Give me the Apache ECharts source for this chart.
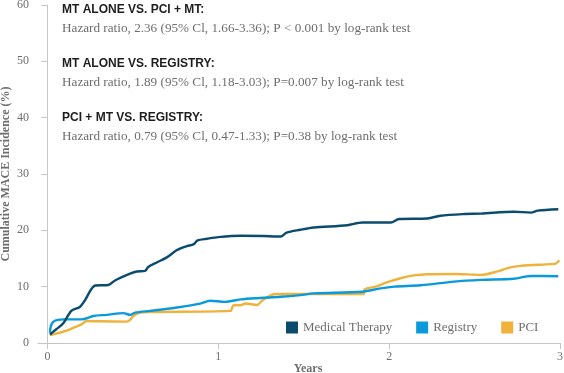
<!DOCTYPE html>
<html>
<head>
<meta charset="utf-8">
<script src="https://cdn.jsdelivr.net/npm/echarts@6/dist/echarts.min.js"></script>
<style>html,body{margin:0;padding:0;background:#fff}#chart{width:564px;height:373px}</style>
</head>
<body>
<div id="chart"></div>
<script>
// ---- data (years, cumulative %) ----
var seriesNames = ['Medical Therapy', 'Registry', 'PCI'];
var xTickValues = [0, 1, 2, 3];
var medicalTherapy = [
  [0.015,1.5],[0.05,2.4],[0.093,3.5],[0.14,5.7],[0.19,6.4],[0.22,7.6],[0.28,10.2],[0.357,10.3],
  [0.396,11.1],[0.484,12.3],[0.523,12.7],[0.572,12.8],[0.59,13.5],[0.64,14.3],[0.699,15.2],
  [0.758,16.5],[0.816,17.2],[0.855,17.5],[0.879,18.2],[0.934,18.5],[1.0,18.8],[1.13,19.05],
  [1.266,19.0],[1.345,18.9],[1.365,18.9],[1.40,19.6],[1.48,20.1],[1.559,20.5],[1.755,20.9],
  [1.843,21.4],[2.01,21.4],[2.058,22.0],[2.224,22.1],[2.30,22.6],[2.44,22.9],[2.537,22.97],
  [2.73,23.3],[2.83,23.15],[2.87,23.5],[2.99,23.75]
];
var registry = [
  [0.015,1.8],[0.02,3.0],[0.035,3.8],[0.06,4.1],[0.093,4.2],[0.2,4.2],[0.27,4.8],[0.347,5.0],
  [0.445,5.3],[0.484,5.0],[0.513,5.4],[0.60,5.7],[0.66,5.9],[0.758,6.3],[0.894,7.0],[0.953,7.5],
  [1.04,7.3],[1.13,7.75],[1.246,8.0],[1.364,8.2],[1.48,8.5],[1.56,8.8],[1.843,9.1],[1.95,9.7],
  [2.03,10.0],[2.185,10.25],[2.38,10.9],[2.537,11.2],[2.73,11.4],[2.83,11.9],[2.99,11.85]
];
var pci = [
  [0.015,1.4],[0.113,2.2],[0.16,2.8],[0.2,3.3],[0.23,3.9],[0.308,3.85],[0.464,3.8],[0.484,4.1],
  [0.503,4.8],[0.543,5.4],[0.60,5.5],[1.07,5.7],[1.09,6.7],[1.13,6.7],[1.158,7.0],[1.227,6.75],
  [1.256,7.5],[1.334,8.7],[1.48,8.7],[1.852,8.7],[1.855,9.5],[1.92,10.0],[1.99,10.8],[2.067,11.5],
  [2.145,12.0],[2.224,12.2],[2.38,12.25],[2.537,12.1],[2.635,12.7],[2.693,13.3],[2.77,13.7],
  [2.947,14.0],[2.975,14.1],[2.996,14.7]
];
var headings = ['MT ALONE VS. PCI + MT:', 'MT ALONE VS. REGISTRY:', 'PCI + MT VS. REGISTRY:'];
var stats = [
  'Hazard ratio, 2.36 (95% Cl, 1.66-3.36); P < 0.001 by log-rank test',
  'Hazard ratio, 1.89 (95% Cl, 1.18-3.03); P=0.007 by log-rank test',
  'Hazard ratio, 0.79 (95% Cl, 0.47-1.33); P=0.38 by log-rank test'
];

var colors = ['#0b4c6e', '#0a9ad9', '#efb23b'];
var serif = '"Liberation Serif", "DejaVu Serif", serif';
var sans = '"Liberation Sans", Arial, sans-serif';
var textGrey = '#6e6e6e';
var axisGrey = '#c6c6c6';

var graphics = [];
var blockTops = [11, 65, 119];
for (var i = 0; i < headings.length; i++) {
  graphics.push({
    type: 'text', left: 62, top: blockTops[i] - 7,
    style: { text: headings[i], font: 'bold 12px ' + sans, fill: '#1e1e1e' }
  });
  graphics.push({
    type: 'text', left: 62, top: blockTops[i] + 11,
    style: { text: stats[i], font: '13.2px ' + serif, fill: textGrey }
  });
}

var chart = echarts.init(document.getElementById('chart'), null, { renderer: 'canvas' });
chart.setOption({
  animation: false,
  color: colors,
  grid: { left: 38, right: 4, top: 5, bottom: 30, containLabel: false, outerBoundsMode: 'none' },
  legend: {
    data: seriesNames,
    left: 286, top: 321, padding: 0,
    itemWidth: 12, itemHeight: 12, itemGap: 24,
    icon: 'rect',
    textStyle: { fontFamily: serif, fontSize: 13, color: textGrey }
  },
  xAxis: {
    type: 'value', min: -0.055, max: 3,
    name: 'Years', nameLocation: 'middle', nameGap: 20, nameMoveOverlap: false,
    nameTextStyle: { fontFamily: serif, fontWeight: 'bold', fontSize: 12, color: textGrey, padding: [0, 0, 0, 18] },
    axisLine: { show: true, lineStyle: { color: axisGrey, width: 1 } },
    axisTick: { show: true, length: 6, lineStyle: { color: axisGrey }, customValues: xTickValues },
    axisLabel: { fontFamily: serif, fontSize: 12, color: textGrey, margin: 8, customValues: xTickValues },
    splitLine: { show: false }
  },
  yAxis: {
    type: 'value', min: 0, max: 60, interval: 10,
    name: 'Cumulative MACE Incidence (%)', nameLocation: 'middle', nameGap: 26, nameMoveOverlap: false,
    nameTextStyle: { fontFamily: serif, fontWeight: 'bold', fontSize: 12, color: textGrey },
    axisLine: { show: true, lineStyle: { color: axisGrey, width: 1 } },
    axisTick: { show: true, length: 6, lineStyle: { color: axisGrey } },
    axisLabel: { fontFamily: serif, fontSize: 12, color: textGrey, margin: 9 },
    splitLine: { show: false }
  },
  graphic: graphics,
  series: [
    { name: seriesNames[0], type: 'line', data: medicalTherapy, showSymbol: false, smooth: 0.3, lineStyle: { width: 2.4 }, z: 3 },
    { name: seriesNames[1], type: 'line', data: registry, showSymbol: false, smooth: 0.3, lineStyle: { width: 2.4 }, z: 2 },
    { name: seriesNames[2], type: 'line', data: pci, showSymbol: false, smooth: 0.3, lineStyle: { width: 2.4 }, z: 1 }
  ]
});
</script>
</body>
</html>
